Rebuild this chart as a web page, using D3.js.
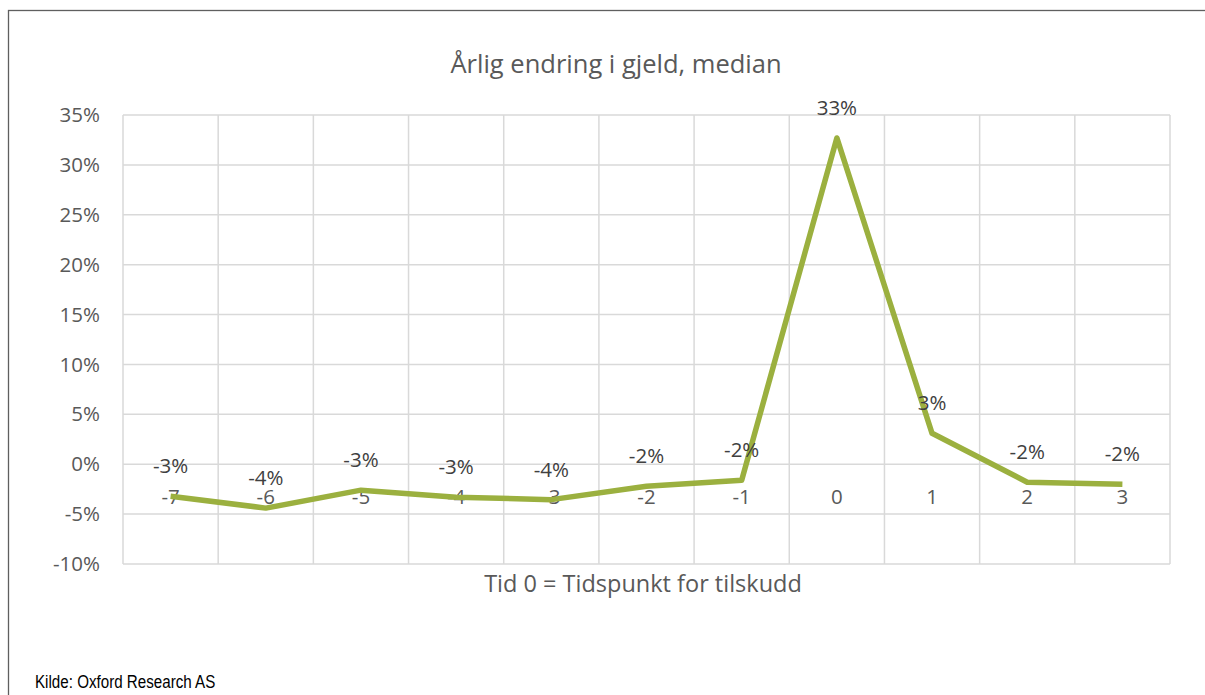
<!DOCTYPE html>
<html>
<head>
<meta charset="utf-8">
<script src="https://cdn.jsdelivr.net/npm/d3@7/dist/d3.min.js"></script>
<style>
  body { margin: 0; background: #fff; }
  svg text { font-family: "Open Sans", Lato, sans-serif; }
</style>
</head>
<body>
<svg id="chart" width="1205" height="695"></svg>
<script>
// chart data
var categories = ["-7", "-6", "-5", "-4", "-3", "-2", "-1", "0", "1", "2", "3"];
var values = [-3.2, -4.4, -2.6, -3.3, -3.55, -2.2, -1.6, 32.7, 3.1, -1.8, -2.0];
var pointLabels = ["-3%", "-4%", "-3%", "-3%", "-4%", "-2%", "-2%", "33%", "3%", "-2%", "-2%"];
var yTicks = [-10, -5, 0, 5, 10, 15, 20, 25, 30, 35];

var svg = d3.select("#chart");
var margin = {top: 115, right: 35, bottom: 131, left: 123};
var width = svg.attr("width") - margin.left - margin.right;
var height = svg.attr("height") - margin.top - margin.bottom;
var fontFam = "'Open Sans', Lato, sans-serif";

// outer frame
svg.append("rect")
  .attr("x", 8.5).attr("y", 10.5)
  .attr("width", 1205).attr("height", 700)
  .attr("fill", "none").attr("stroke", "#5f5f5f").attr("stroke-width", 1.3);

var canvas = svg.append("g")
  .attr("transform", "translate(" + margin.left + "," + margin.top + ")");

var xScale = d3.scaleBand().domain(categories).range([0, width]).padding(0);
var yScale = d3.scaleLinear().domain([-10, 35]).range([height, 0]);

// horizontal gridlines
canvas.append("g").selectAll("line").data(yTicks).enter().append("line")
  .attr("x1", 0).attr("x2", width)
  .attr("y1", d => yScale(d)).attr("y2", d => yScale(d))
  .attr("stroke", "#d9d9d9").attr("stroke-width", 1.5);

// vertical gridlines at category boundaries
var bounds = categories.map(c => xScale(c)).concat([width]);
canvas.append("g").selectAll("line").data(bounds).enter().append("line")
  .attr("x1", d => d).attr("x2", d => d)
  .attr("y1", 0).attr("y2", height)
  .attr("stroke", "#d9d9d9").attr("stroke-width", 1.5);

// y axis labels
var yAxis = d3.axisLeft(yScale).tickValues(yTicks).tickSize(0).tickPadding(23)
  .tickFormat(d => d + "%");
var gy = canvas.append("g").call(yAxis);
gy.select(".domain").remove();
gy.selectAll("text").attr("font-size", 20.5).attr("fill", "#595959")
  .style("font-family", fontFam);

// category labels (axis crosses at 0, labels sit below it)
var xAxis = d3.axisBottom(xScale).tickSize(0).tickPadding(25);
var gx = canvas.append("g").attr("transform", "translate(0," + yScale(0) + ")").call(xAxis);
gx.select(".domain").remove();
gx.selectAll("text").attr("font-size", 20.5).attr("fill", "#595959")
  .style("font-family", fontFam);

// line
var line = d3.line()
  .x((d, i) => xScale(categories[i]) + xScale.bandwidth() / 2)
  .y(d => yScale(d));
canvas.append("path").datum(values)
  .attr("d", line)
  .attr("fill", "none").attr("stroke", "#9bb03f")
  .attr("stroke-width", 5.5).attr("stroke-linejoin", "round");

// data labels
canvas.append("g").selectAll("text").data(values).enter().append("text")
  .attr("x", (d, i) => xScale(categories[i]) + xScale.bandwidth() / 2)
  .attr("y", d => yScale(d) - 23)
  .attr("text-anchor", "middle")
  .attr("font-size", 20.5).attr("fill", "#404040")
  .text((d, i) => pointLabels[i]);

// titles
svg.append("text").attr("x", 616).attr("y", 73)
  .attr("text-anchor", "middle").attr("font-size", 25.5).attr("fill", "#595959")
  .text("Årlig endring i gjeld, median");

svg.append("text").attr("x", 643).attr("y", 592)
  .attr("text-anchor", "middle").attr("font-size", 23.5).attr("fill", "#595959")
  .text("Tid 0 = Tidspunkt for tilskudd");

// source note, narrow face squeezed horizontally
svg.append("text").attr("transform", "translate(35,688) scale(0.82,1)")
  .attr("font-size", 18.5).attr("fill", "#000")
  .style("font-family", "'Liberation Sans', Arial, sans-serif")
  .text("Kilde: Oxford Research AS");
</script>
</body>
</html>
